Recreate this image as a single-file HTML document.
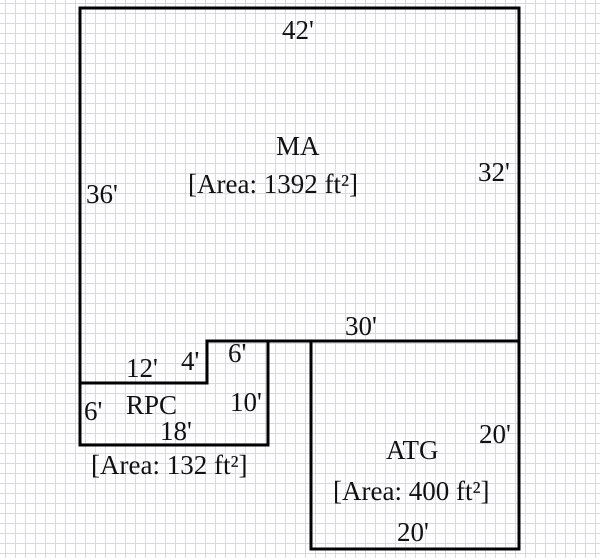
<!DOCTYPE html>
<html><head><style>
html,body{margin:0;padding:0;}
body{width:600px;height:558px;overflow:hidden;background:#fff;
background-image:linear-gradient(to right,#d9d9e4 1px,transparent 1px),linear-gradient(to bottom,#d9d9e4 1px,transparent 1px);
background-size:10px 10px;background-position:5px 3px;}
svg{position:absolute;left:0;top:0;}
text{font-family:"Liberation Serif",serif;font-size:27px;fill:#111;}
</style></head><body>
<svg width="600" height="558">
<g fill="none" stroke="#000" stroke-width="3" stroke-linecap="square">
<path d="M80,383 V8 H519 V341 H207 V383 Z"/>
<path d="M80,383 H207 M207,341 H268 V445 H80 V383"/>
<path d="M311,341 V549 H519 V341"/>
</g>
<text x="282" y="39">42'</text>
<text x="276" y="155">MA</text>
<text x="188" y="193">[Area: 1392 ft²]</text>
<text x="86" y="203">36'</text>
<text x="478" y="181">32'</text>
<text x="345" y="335">30'</text>
<text x="126" y="377">12'</text>
<text x="181" y="370">4'</text>
<text x="228" y="362">6'</text>
<text x="126" y="414">RPC</text>
<text x="84" y="420">6'</text>
<text x="230" y="411">10'</text>
<text x="160" y="440">18'</text>
<text x="91" y="474">[Area: 132 ft²]</text>
<text x="479" y="443">20'</text>
<text x="386" y="459">ATG</text>
<text x="333" y="500">[Area: 400 ft²]</text>
<text x="397" y="541">20'</text>
</svg>
</body></html>
